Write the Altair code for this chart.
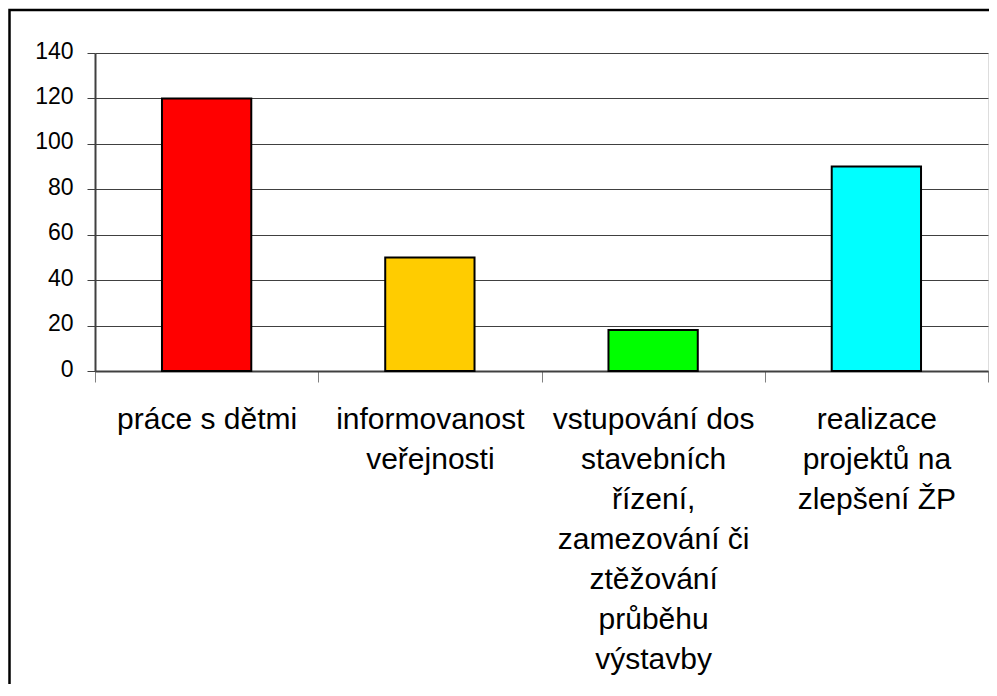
import altair as alt
import pandas as pd

categories = [
    "práce s dětmi",
    "informovanost\nveřejnosti",
    "vstupování dos\nstavebních\nřízení,\nzamezování či\nztěžování\nprůběhu\nvýstavby",
    "realizace\nprojektů na\nzlepšení ŽP",
]
values = [120, 50, 18, 90]
colors = ["#FF0000", "#FFCC00", "#00FF00", "#00FFFF"]
y_ticks = [0, 20, 40, 60, 80, 100, 120, 140]

df = pd.DataFrame({"cat": categories, "val": values})

FONT = "Liberation Sans"

bars = alt.Chart(df).mark_bar(
    width={"band": 0.4}, stroke="black", strokeWidth=2
).encode(
    x=alt.X(
        "cat:N",
        sort=categories,
        title=None,
        scale=alt.Scale(paddingInner=0, paddingOuter=0),
        axis=alt.Axis(
            tickBand="extent",
            grid=False,
            labelAngle=0,
            labelExpr="split(datum.label, '\\n')",
            labelFont=FONT,
            labelFontSize=30,
            labelLineHeight=40,
            labelColor="black",
            labelLimit=0,
            labelOverlap=False,
            labelPadding=22,
            labelBaseline="top",
            tickSize=11,
            tickColor="#808080",
            tickWidth=1,
            domainColor="#404040",
            domainWidth=2,
        ),
    ),
    y=alt.Y(
        "val:Q",
        title=None,
        scale=alt.Scale(domain=[0, 140], nice=False),
        axis=alt.Axis(
            values=y_ticks,
            grid=True,
            gridColor="#404040",
            gridWidth=1,
            labelFont=FONT,
            labelFontSize=23,
            labelColor="black",
            labelPadding=14,
            labelOffset=-2,
            tickSize=8,
            tickColor="#404040",
            tickWidth=1,
            domainColor="#404040",
            domainWidth=2,
        ),
    ),
    color=alt.Color(
        "cat:N",
        sort=categories,
        scale=alt.Scale(domain=categories, range=colors),
        legend=None,
    ),
)

frame = alt.Chart(pd.DataFrame({"a": [0]})).mark_rect(
    fill=None, filled=False, stroke="black", strokeWidth=2.5, clip=False
).encode(
    x=alt.value(-85.5),
    x2=alt.value(1000),
    y=alt.value(-43),
    y2=alt.value(800),
)

chart = alt.layer(bars, frame).properties(
    width=893,
    height=318,
    padding={"left": 87, "top": 45, "right": 1, "bottom": 313},
    autosize=alt.AutoSizeParams(type="none"),
).configure_view(
    stroke="#8c8c8c", strokeWidth=2
).configure(background="white")

chart.save("out.html", embed_options={"renderer": "svg", "actions": False})
